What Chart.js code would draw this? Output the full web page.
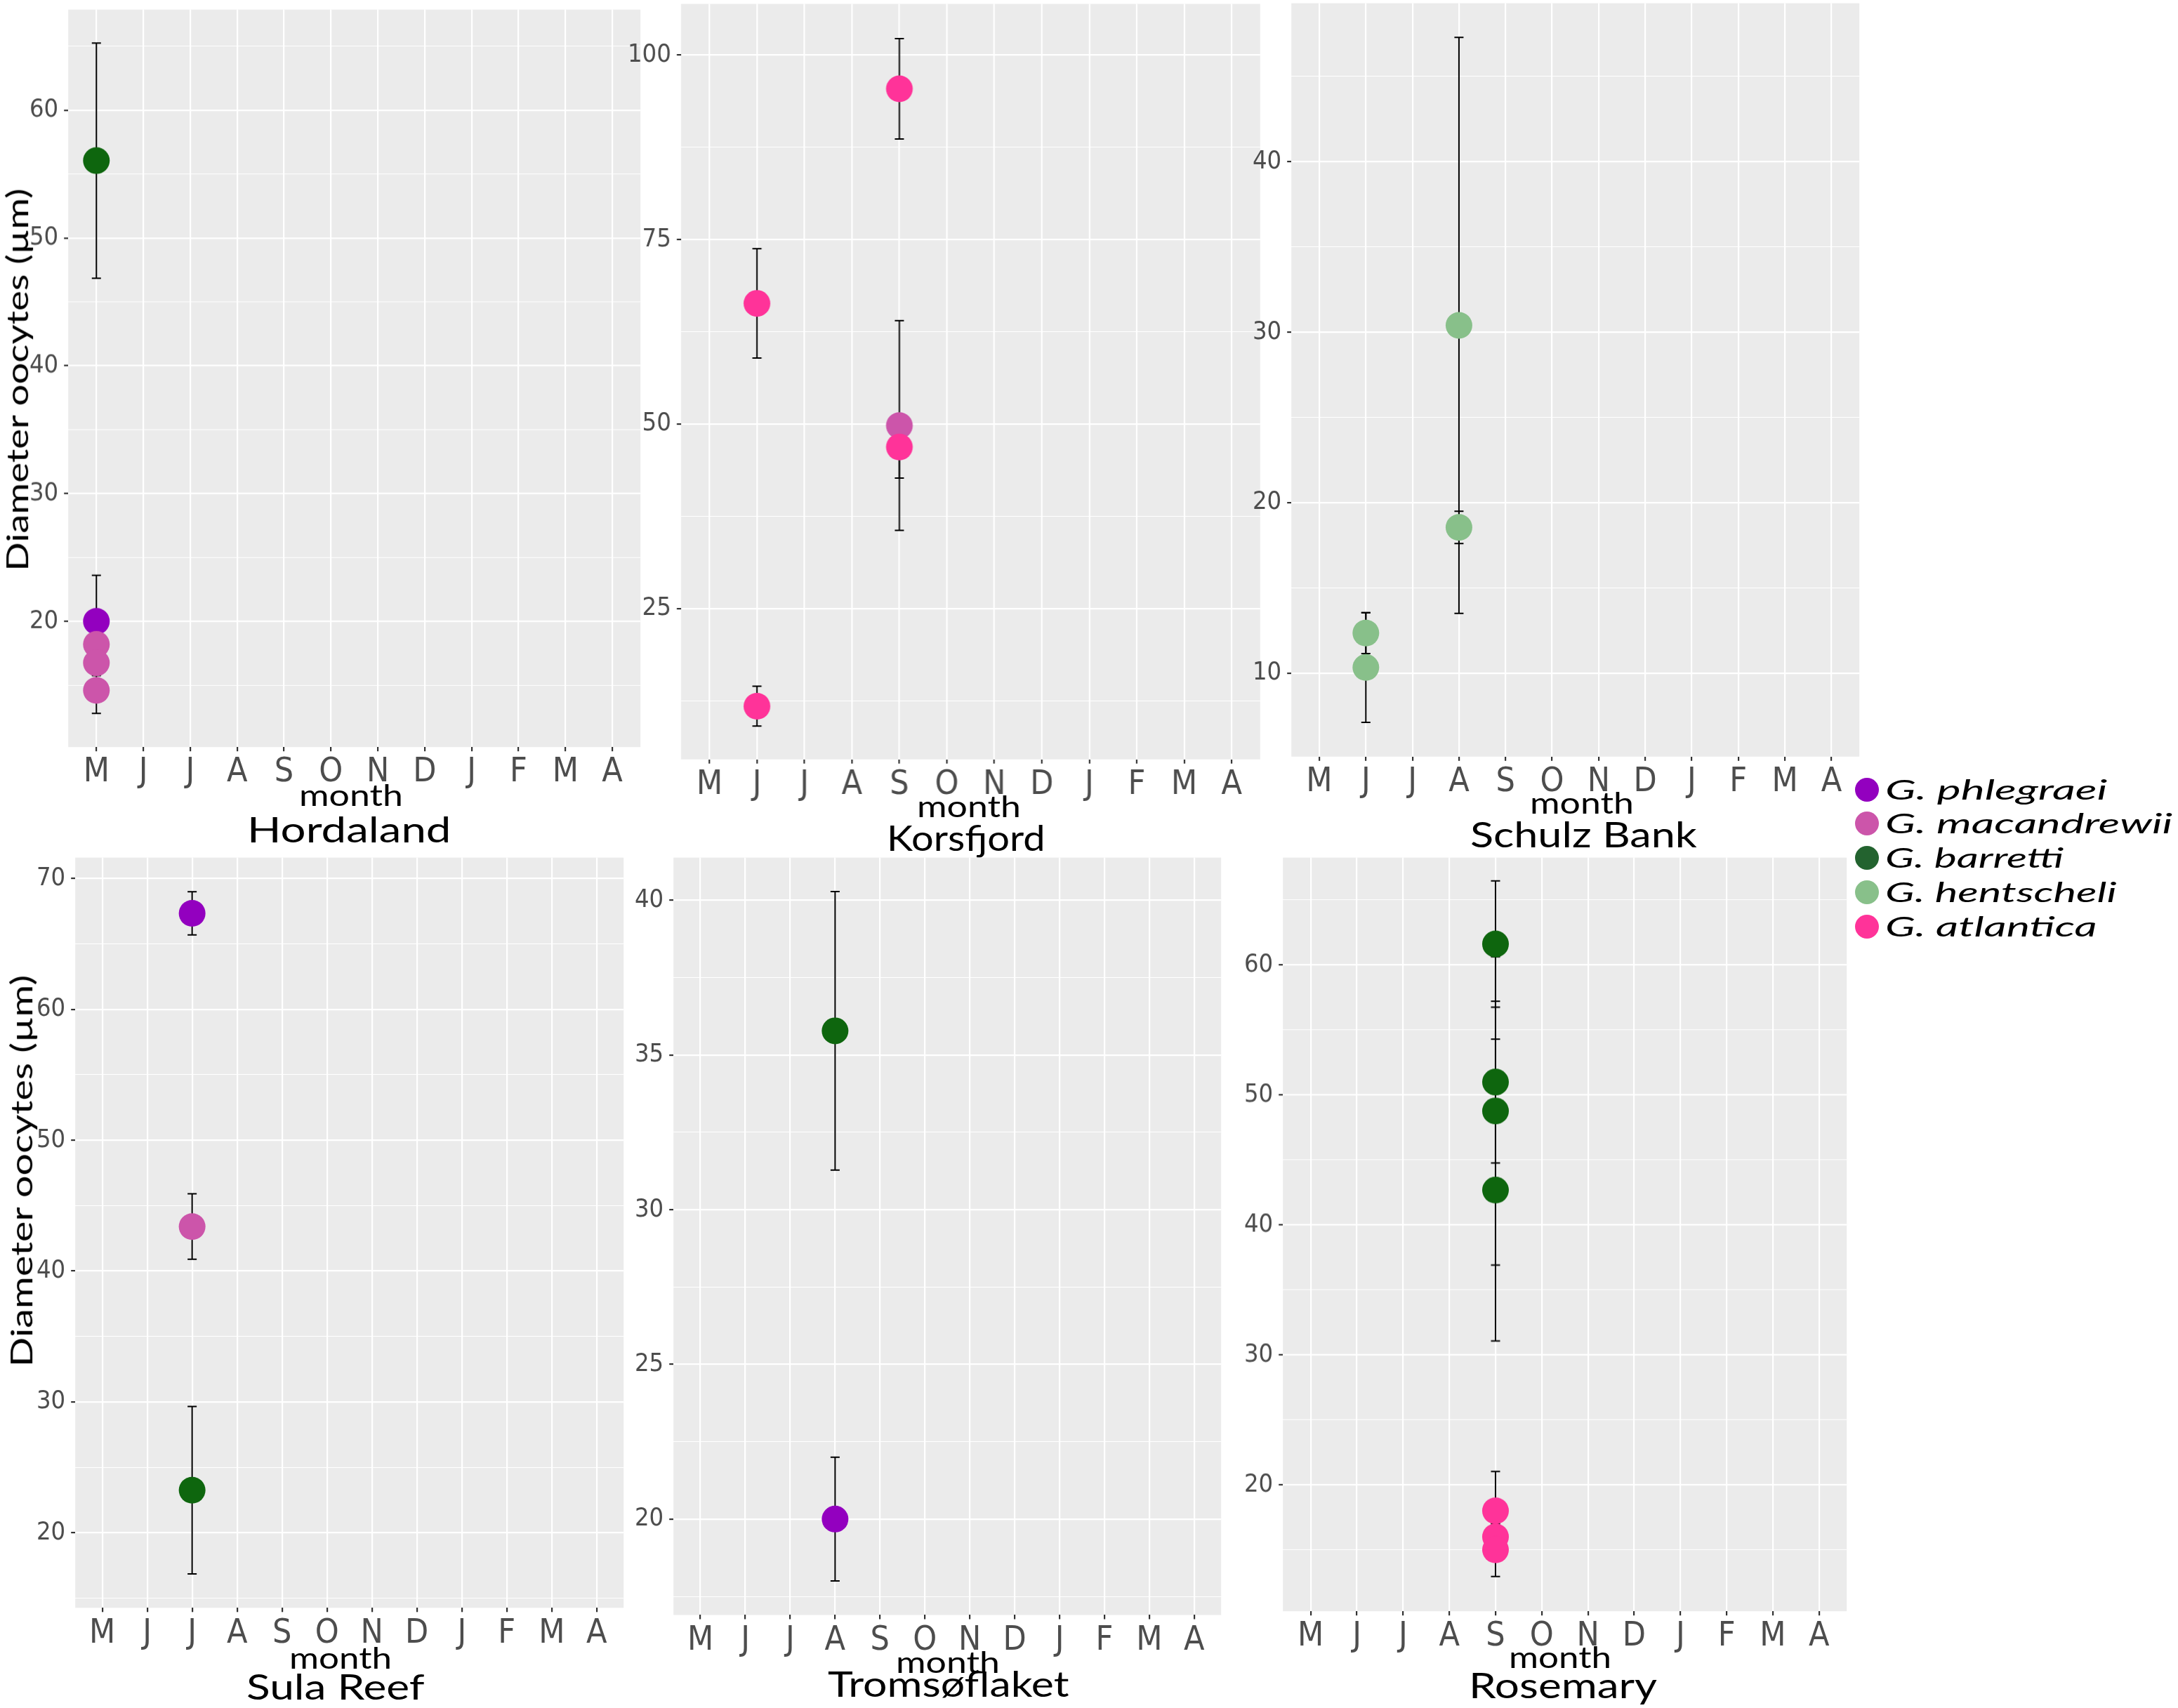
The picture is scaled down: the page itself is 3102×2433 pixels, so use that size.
<!DOCTYPE html>
<html lang="en">

<head>
  <meta charset="UTF-8">
  <title>Diameter oocytes per month</title>
  <script src="https://cdn.jsdelivr.net/npm/chart.js"></script>
  <style>
    body {
      margin: 0;
      background: #fff;
      width: 3102px;
      height: 2433px;
      position: relative;
      overflow: hidden;
    }

    .panel {
      position: absolute;
    }

    .label {
      position: absolute;
      white-space: nowrap;
      font-family: Lato, "DejaVu Sans", sans-serif;
      color: #000;
      line-height: 1;
    }

    .dot {
      position: absolute;
      width: 34px;
      height: 34px;
      border-radius: 50%;
    }
  </style>
</head>

<body>
  <script>
    // month axis (May -> April) and species
    const months = ['M', 'J', 'J', 'A', 'S', 'O', 'N', 'D', 'J', 'F', 'M', 'A'];
    const species = ['G. phlegraei', 'G. macandrewii', 'G. barretti', 'G. hentscheli', 'G. atlantica'];
    const speciesColors = ['#9300BF', '#CC55AA', '#0E660E', '#88C08A', '#FF3399'];
    const legendColors = ['#9300BF', '#CC55AA', '#23632F', '#88C08A', '#FF3399'];

    // month = position on the axis (1 = M ... 12 = A), mean and sd in µm
    const hordalandMonth = [1, 1, 1, 1, 1];
    const hordalandSpecies = ['G. phlegraei', 'G. macandrewii', 'G. macandrewii', 'G. macandrewii', 'G. barretti'];
    const hordalandMean = [20.0, 18.2, 16.75, 14.6, 56.05];
    const hordalandSd = [3.6, 0.9, 1.0, 1.8, 9.2];

    const korsfjordMonth = [2, 2, 5, 5, 5];
    const korsfjordSpecies = ['G. atlantica', 'G. atlantica', 'G. atlantica', 'G. macandrewii', 'G. atlantica'];
    const korsfjordMean = [66.35, 11.8, 95.4, 49.8, 46.9];
    const korsfjordSd = [7.4, 2.7, 6.8, 14.2, 4.2];

    const schulzMonth = [2, 2, 4, 4];
    const schulzSpecies = ['G. hentscheli', 'G. hentscheli', 'G. hentscheli', 'G. hentscheli'];
    const schulzMean = [12.35, 10.33, 30.4, 18.55];
    const schulzSd = [1.2, 3.22, 16.9, 0.95];

    const sulaMonth = [3, 3, 3];
    const sulaSpecies = ['G. phlegraei', 'G. macandrewii', 'G. barretti'];
    const sulaMean = [67.34, 43.4, 23.25];
    const sulaSd = [1.65, 2.5, 6.4];

    const tromsoMonth = [4, 4];
    const tromsoSpecies = ['G. barretti', 'G. phlegraei'];
    const tromsoMean = [35.78, 20.0];
    const tromsoSd = [4.5, 2.0];

    const rosemaryMonth = [5, 5, 5, 5, 5, 5, 5];
    const rosemarySpecies = ['G. barretti', 'G. barretti', 'G. barretti', 'G. barretti', 'G. atlantica', 'G. atlantica', 'G. atlantica'];
    const rosemaryMean = [61.6, 50.98, 48.76, 42.67, 18.0, 16.0, 15.0];
    const rosemarySd = [4.86, 6.22, 11.86, 11.61, 3.02, 1.0, 2.06];

    // y axis labelled ticks
    const hordalandTicks = [20, 30, 40, 50, 60];
    const korsfjordTicks = [25, 50, 75, 100];
    const schulzTicks = [10, 20, 30, 40];
    const sulaTicks = [20, 30, 40, 50, 60, 70];
    const tromsoTicks = [20, 25, 30, 35, 40];
    const rosemaryTicks = [20, 30, 40, 50, 60];

    const panels = [
      { name: 'Hordaland', month: hordalandMonth, species: hordalandSpecies, mean: hordalandMean, sd: hordalandSd, ticks: hordalandTicks, yMin: 10.16, yMax: 67.87, area: [97, 14, 912, 1063.6], monthText: [500, 1148, 148], title: [497, 1200, 290], yTitle: [24, 541, 545] },
      { name: 'Korsfjord', month: korsfjordMonth, species: korsfjordSpecies, mean: korsfjordMean, sd: korsfjordSd, ticks: korsfjordTicks, yMin: 4.6, yMax: 106.9, area: [970, 5.4, 1794, 1081.5], monthText: [1380, 1164, 148], title: [1375, 1212, 225] },
      { name: 'Schulz Bank', month: schulzMonth, species: schulzSpecies, mean: schulzMean, sd: schulzSd, ticks: schulzTicks, yMin: 5.1, yMax: 49.3, area: [1839, 4.5, 2648, 1077.7], monthText: [2253, 1159, 148], title: [2255, 1207, 323] },
      { name: 'Sula Reef', month: sulaMonth, species: sulaSpecies, mean: sulaMean, sd: sulaSd, ticks: sulaTicks, yMin: 14.26, yMax: 71.6, area: [107, 1221.2, 888, 2289.9], monthText: [485, 2377, 146], title: [478, 2421, 254], yTitle: [30, 1668, 558] },
      { name: 'Tromsøflaket', month: tromsoMonth, species: tromsoSpecies, mean: tromsoMean, sd: tromsoSd, ticks: tromsoTicks, yMin: 16.9, yMax: 41.38, area: [959, 1222, 1739, 2300.9], monthText: [1350, 2383, 148], title: [1351, 2417, 344] },
      { name: 'Rosemary', month: rosemaryMonth, species: rosemarySpecies, mean: rosemaryMean, sd: rosemarySd, ticks: rosemaryTicks, yMin: 10.27, yMax: 68.25, area: [1827, 1222, 2630, 2294.6], monthText: [2222, 2376, 146], title: [2226, 2419, 268] }
    ];

    const tickFont = '"Liberation Sans Narrow", "DejaVu Sans Condensed", sans-serif';

    // grey panel background like ggplot
    const panelBackground = {
      id: 'panelBackground',
      beforeDraw(chart) {
        const { ctx, chartArea: a } = chart;
        ctx.save();
        ctx.fillStyle = '#EBEBEB';
        ctx.fillRect(a.left, a.top, a.right - a.left, a.bottom - a.top);
        ctx.restore();
      }
    };

    // mean +/- sd whiskers, drawn under the points
    const errorBars = {
      id: 'errorBars',
      beforeDatasetsDraw(chart) {
        const { ctx, scales: { x, y } } = chart;
        ctx.save();
        ctx.strokeStyle = '#000';
        ctx.lineWidth = 2;
        chart.data.datasets.forEach(ds => {
          ds.data.forEach(pt => {
            const px = x.getPixelForValue(pt.x);
            const hi = y.getPixelForValue(pt.y + pt.sd);
            const lo = y.getPixelForValue(pt.y - pt.sd);
            ctx.beginPath();
            ctx.moveTo(px, hi); ctx.lineTo(px, lo);
            ctx.moveTo(px - 6.5, hi); ctx.lineTo(px + 6.5, hi);
            ctx.moveTo(px - 6.5, lo); ctx.lineTo(px + 6.5, lo);
            ctx.stroke();
          });
        });
        ctx.restore();
      }
    };

    function yTickList(p) {
      // labelled ticks plus the minor lines half way between them
      const step = p.ticks[1] - p.ticks[0];
      const list = [];
      for (let v = p.ticks[0] - step; v <= p.ticks[p.ticks.length - 1] + step; v += step / 2) {
        if (v >= p.yMin && v <= p.yMax) list.push(v);
      }
      return list;
    }

    function makePanel(p) {
      const box = { left: p.area[0] - 60, top: p.area[1] - 20, width: p.area[2] - p.area[0] + 80, height: p.area[3] - p.area[1] + 90 };
      const wrap = document.createElement('div');
      wrap.className = 'panel';
      const canvas = document.createElement('canvas');
      wrap.appendChild(canvas);
      document.body.appendChild(wrap);

      function place() {
        wrap.style.left = box.left + 'px';
        wrap.style.top = box.top + 'px';
        wrap.style.width = box.width + 'px';
        wrap.style.height = box.height + 'px';
      }
      place();

      const datasets = species.map((sp, i) => ({
        label: sp,
        order: species.length - i,
        data: p.species.map((s, j) => s === sp ? { x: p.month[j], y: p.mean[j], sd: p.sd[j] } : null).filter(d => d),
        backgroundColor: speciesColors[i],
        pointRadius: 19,
        pointHoverRadius: 19,
        pointBorderWidth: 0,
        borderWidth: 0
      })).filter(ds => ds.data.length > 0);

      const chart = new Chart(canvas, {
        type: 'scatter',
        data: { datasets: datasets },
        options: {
          responsive: true,
          maintainAspectRatio: false,
          animation: false,
          events: [],
          layout: { padding: 0 },
          plugins: {
            legend: { display: false },
            tooltip: { enabled: false }
          },
          scales: {
            x: {
              type: 'linear',
              min: 0.4,
              max: 12.6,
              afterBuildTicks: axis => {
                axis.ticks = months.map((m, i) => ({ value: i + 1 }));
              },
              ticks: {
                callback: v => months[Math.round(v) - 1],
                autoSkip: false,
                maxRotation: 0,
                padding: 2,
                color: '#4D4D4D',
                font: { family: tickFont, size: 48 }
              },
              grid: { color: '#FFFFFF', lineWidth: 2.2, tickColor: '#333333', tickLength: 6 },
              border: { display: false }
            },
            y: {
              type: 'linear',
              min: p.yMin,
              max: p.yMax,
              afterBuildTicks: axis => {
                axis.ticks = yTickList(p).map(v => ({ value: v }));
              },
              ticks: {
                callback: v => p.ticks.includes(v) ? String(v) : '',
                autoSkip: false,
                padding: 8,
                color: '#4D4D4D',
                font: { family: tickFont, size: 36 }
              },
              grid: {
                color: '#FFFFFF',
                lineWidth: ctx => ctx.tick && p.ticks.includes(ctx.tick.value) ? 2.2 : 1.1,
                tickColor: ctx => ctx.tick && p.ticks.includes(ctx.tick.value) ? '#333333' : 'rgba(0,0,0,0)',
                tickLength: 6
              },
              border: { display: false }
            }
          }
        },
        plugins: [panelBackground, errorBars]
      });

      // move and resize the canvas so the plot area lands where the reference has it
      for (let k = 0; k < 2; k++) {
        const ca = chart.chartArea;
        const padRight = box.width - ca.right;
        const padBottom = box.height - ca.bottom;
        box.left = p.area[0] - ca.left;
        box.top = p.area[1] - ca.top;
        box.width = p.area[2] - box.left + padRight;
        box.height = p.area[3] - box.top + padBottom;
        place();
        chart.resize();
      }
      return chart;
    }

    function addText(text, opts) {
      const span = document.createElement('span');
      span.className = 'label';
      span.style.fontSize = opts.size + 'px';
      if (opts.italic) span.style.fontStyle = 'italic';
      span.textContent = text;
      const mark = document.createElement('span');
      mark.style.display = 'inline-block';
      mark.style.width = '0px';
      mark.style.height = '0px';
      mark.style.verticalAlign = 'baseline';
      span.appendChild(mark);
      document.body.appendChild(span);
      const w = span.offsetWidth;
      const h = span.offsetHeight;
      const k = opts.width / w;
      if (opts.rotate) {
        span.style.left = (opts.x - w / 2) + 'px';
        span.style.top = (opts.y - h / 2) + 'px';
        span.style.transform = 'rotate(-90deg) scaleX(' + k + ')';
      } else {
        const base = mark.offsetTop;
        span.style.transformOrigin = '0 0';
        span.style.left = (opts.align === 'left' ? opts.x : opts.x - opts.width / 2) + 'px';
        span.style.top = (opts.y - base) + 'px';
        span.style.transform = 'scaleX(' + k + ')';
      }
    }

    panels.forEach(p => {
      makePanel(p);
      addText('month', { x: p.monthText[0], y: p.monthText[1], width: p.monthText[2], size: 42 });
      addText(p.name, { x: p.title[0], y: p.title[1], width: p.title[2], size: 50 });
      if (p.yTitle) {
        addText('Diameter oocytes (µm)', { x: p.yTitle[0], y: p.yTitle[1], width: p.yTitle[2], size: 42, rotate: true });
      }
    });

    // legend on the right
    const legendRows = [1125, 1173, 1222, 1271, 1320];
    const legendWidths = [316, 410, 255, 330, 301];
    species.forEach((sp, i) => {
      const dot = document.createElement('div');
      dot.className = 'dot';
      dot.style.background = legendColors[i];
      dot.style.left = (2659 - 17) + 'px';
      dot.style.top = (legendRows[i] - 17) + 'px';
      document.body.appendChild(dot);
      addText(sp, { x: 2685, y: legendRows[i] + 14, width: legendWidths[i], size: 39, italic: true, align: 'left' });
    });
  </script>
</body>

</html>
